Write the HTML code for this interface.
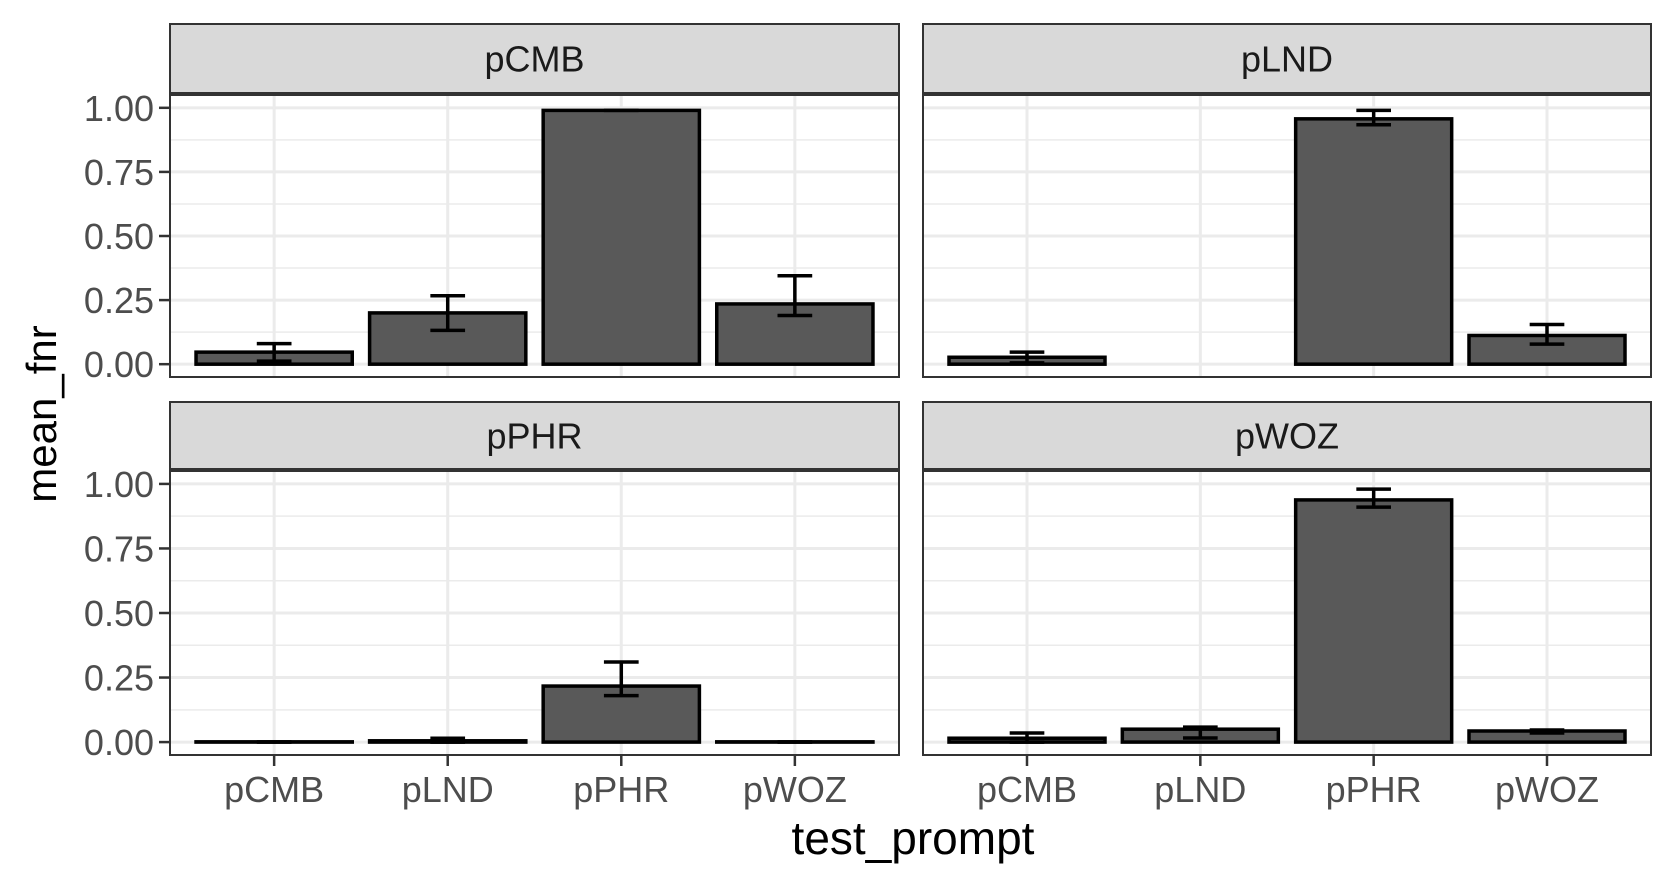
<!DOCTYPE html>
<html><head><meta charset="utf-8"><style>
html,body{margin:0;padding:0;background:#fff}
svg{display:block}
text{font-family:"Liberation Sans",sans-serif}
</style></head><body>
<svg id="chart" width="1675" height="887" viewBox="0 0 1675 887" xmlns="http://www.w3.org/2000/svg"></svg>
<script>
const facets = ["pCMB","pLND","pPHR","pWOZ"];
const categories = ["pCMB","pLND","pPHR","pWOZ"];
const meanCMB = [0.047,0.20,0.99,0.235];
const lowCMB  = [0.012,0.132,0.99,0.19];
const highCMB = [0.08,0.267,0.99,0.345];
const meanLND = [0.027,0,0.957,0.112];
const lowLND  = [0.005,0,0.934,0.078];
const highLND = [0.047,0,0.99,0.155];
const meanPHR = [0.001,0.005,0.217,0.001];
const lowPHR  = [0,0,0.18,0];
const highPHR = [0.001,0.015,0.31,0.001];
const meanWOZ = [0.015,0.05,0.938,0.043];
const lowWOZ  = [0,0.016,0.91,0.035];
const highWOZ = [0.035,0.058,0.98,0.047];
const yTicks = [0,0.25,0.5,0.75,1];
const yTickLabels = ["0.00","0.25","0.50","0.75","1.00"];
const series = [[meanCMB,lowCMB,highCMB],[meanLND,lowLND,highLND],[meanPHR,lowPHR,highPHR],[meanWOZ,lowWOZ,highWOZ]];

const svg = document.getElementById('chart');
const NS = "http://www.w3.org/2000/svg";
function mk(tag, attrs){const e=document.createElementNS(NS,tag);for(const k in attrs)e.setAttribute(k,attrs[k]);svg.appendChild(e);return e;}

const colX = [[170,899],[923,1651]];
const rowY = [{stripTop:24,top:95,bottom:377},{stripTop:402,top:471,bottom:755}];

facets.forEach((f,fi)=>{
  const c = fi%2, r = Math.floor(fi/2);
  const x0 = colX[c][0], x1 = colX[c][1];
  const R = rowY[r];
  const h = R.bottom-R.top;
  const yScale = v => R.bottom - h*0.05/1.1 - v*(h/1.1);
  const step = (x1-x0)/(categories.length-1+1.2);
  const xScale = i => x0 + step*(0.6+i);
  const st = mk('rect',{x:x0,y:R.stripTop,width:x1-x0,height:R.top-R.stripTop-2,fill:'#d9d9d9',stroke:'#333','stroke-width':2});
  
  
  const stt = mk('text',{x:(x0+x1)/2,y:(R.stripTop+R.top)/2+12,'text-anchor':'middle','font-size':36,fill:'#1a1a1a'});
  stt.textContent=f;
  
  
  const bg = mk('rect',{x:x0,y:R.top,width:x1-x0,height:h,fill:'#fff'});
  
  
  for(let i=0;i<yTicks.length-1;i++){
    const yy=yScale((yTicks[i]+yTicks[i+1])/2);
    const g=mk('line',{x1:x0,x2:x1,y1:yy,y2:yy,stroke:'#ebebeb','stroke-width':1.5});
    
    
  }
  yTicks.forEach(t=>{
    const yy=yScale(t);
    const g=mk('line',{x1:x0,x2:x1,y1:yy,y2:yy,stroke:'#ebebeb','stroke-width':3});
    
    
  });
  categories.forEach((cat,i)=>{
    const xx=xScale(i);
    const g=mk('line',{x1:xx,x2:xx,y1:R.top,y2:R.bottom,stroke:'#ebebeb','stroke-width':3});
    
    
  });
  const [mean,low,high]=series[fi];
  const bw = step*0.9, cw = step*0.2;
  categories.forEach((cat,i)=>{
    if(mean[i]===0 && high[i]===0) return;
    const xx=xScale(i);
    const yt=yScale(mean[i]), yb=yScale(0);
    const b=mk('rect',{x:xx-bw/2,y:yt,width:bw,height:Math.max(0,yb-yt),fill:'#595959',stroke:'#000','stroke-width':3.5});
    
    
    const yl=yScale(low[i]), yh=yScale(high[i]);
    const e=mk('path',{d:`M${xx-cw/2},${yh}H${xx+cw/2}M${xx},${yh}V${yl}M${xx-cw/2},${yl}H${xx+cw/2}`,stroke:'#000','stroke-width':3.5,fill:'none'});
    
    
  });
  const bd=mk('rect',{x:x0,y:R.top,width:x1-x0,height:h,fill:'none',stroke:'#333','stroke-width':2});
  
  
  if(c===0){
    yTicks.forEach((t,i)=>{
      const yy=yScale(t);
      const tk=mk('line',{x1:x0-11,x2:x0,y1:yy,y2:yy,stroke:'#333','stroke-width':2.5});
      
      
      const tl=mk('text',{x:x0-16,y:yy+13,'text-anchor':'end','font-size':36,fill:'#4d4d4d'});
      tl.textContent=yTickLabels[i];
      
      
    });
  }
  if(r===1){
    categories.forEach((cat,i)=>{
      const xx=xScale(i);
      const tk=mk('line',{x1:xx,x2:xx,y1:R.bottom,y2:R.bottom+11,stroke:'#333','stroke-width':2.5});
      
      
      const tl=mk('text',{x:xx,y:R.bottom+47,'text-anchor':'middle','font-size':36,fill:'#4d4d4d'});
      tl.textContent=cat;
      
      
    });
  }
});
const xt=mk('text',{x:913,y:854,'text-anchor':'middle','font-size':46,fill:'#000'});
xt.textContent='test_prompt';


const yt=mk('text',{x:0,y:0,'text-anchor':'middle','font-size':42,fill:'#000',transform:'translate(56,414) rotate(-90)'});
yt.textContent='mean_fnr';


</script>
</body></html>
